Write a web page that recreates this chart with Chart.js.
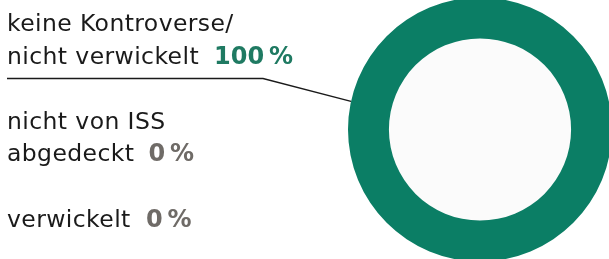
<!DOCTYPE html>
<html>
<head>
<meta charset="utf-8">
<script src="https://cdn.jsdelivr.net/npm/chart.js@4.4.1/dist/chart.umd.min.js"></script>
<style>
  html, body { margin: 0; padding: 0; background: #fff; }
  body { width: 609px; height: 259px; overflow: hidden; position: relative; }
  #wrap { position: absolute; left: 0; top: -3px; width: 612px; height: 265px; }
</style>
</head>
<body>
<div id="wrap"><canvas id="ring"></canvas></div>
<script>
// categories and shares (%)
const labels = [['keine Kontroverse/', 'nicht verwickelt'], ['nicht von ISS', 'abgedeckt'], ['verwickelt']];
const shares = [100, 0, 0];
const sliceColors = ['#0b7e65', '#6f6b67', '#6f6b67'];
const valueColors = ['#1f7a62', '#6f6b67', '#6f6b67'];

// text placement for the label block on the left (page px)
const labelX = 7;
const lineBaselines = [[31, 63.5], [128.5, 161], [227]];
const valueX = [214, 148.5, 146];
const FONT = '"DejaVu Sans", sans-serif';

const sideLabels = {
    id: 'sideLabels',
    beforeDatasetsDraw(chart) {
        // light fill inside the hole
        const arc = chart.getDatasetMeta(0).data[0];
        if (!arc) return;
        const ctx = chart.ctx;
        ctx.save();
        ctx.fillStyle = '#fbfbfb';
        ctx.beginPath();
        ctx.arc(arc.x, arc.y, arc.innerRadius, 0, Math.PI * 2);
        ctx.fill();
        ctx.restore();
    },
    afterDraw(chart) {
        const ctx = chart.ctx;
        const arc = chart.getDatasetMeta(0).data[0];
        const dy = 3; // canvas sits 3px above the page
        ctx.save();
        ctx.textBaseline = 'alphabetic';
        ctx.textAlign = 'left';
        labels.forEach((lines, i) => {
            ctx.font = '23.5px ' + FONT;
            ctx.letterSpacing = '0.4px';
            ctx.fillStyle = '#1a1a1a';
            lines.forEach((t, j) => {
                ctx.fillText(t, labelX, lineBaselines[i][j] + dy);
            });
            const last = lineBaselines[i][lines.length - 1] + dy;
            ctx.font = 'bold 24px ' + FONT;
            ctx.letterSpacing = '0px';
            ctx.fillStyle = valueColors[i];
            ctx.fillText(shares[i] + '\u2009%', valueX[i], last);
        });
        // leader line from first label to the ring
        const ang = 192.3 * Math.PI / 180;
        const ex = arc.x + Math.cos(ang) * arc.outerRadius;
        const ey = arc.y + Math.sin(ang) * arc.outerRadius;
        ctx.strokeStyle = '#1a1a1a';
        ctx.lineWidth = 1.3;
        ctx.beginPath();
        ctx.moveTo(labelX, 78.5 + dy);
        ctx.lineTo(263, 78.5 + dy);
        ctx.lineTo(ex, ey);
        ctx.stroke();
        ctx.restore();
    }
};

new Chart(document.getElementById('ring'), {
    type: 'doughnut',
    data: {
        labels: labels.map(l => l.join(' ')),
        datasets: [{
            data: shares,
            backgroundColor: sliceColors,
            borderWidth: 0
        }]
    },
    options: {
        responsive: true,
        maintainAspectRatio: false,
        animation: false,
        cutout: '69%',
        layout: { padding: { left: 348, right: 0, top: 0, bottom: 0 } },
        plugins: {
            legend: { display: false },
            tooltip: { enabled: false }
        }
    },
    plugins: [sideLabels]
});
</script>
</body>
</html>
